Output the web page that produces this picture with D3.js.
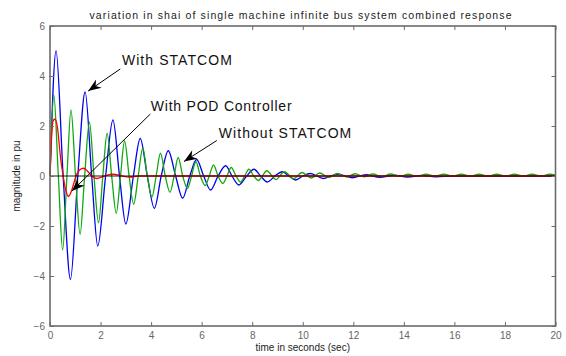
<!DOCTYPE html>
<html>
<head>
<meta charset="utf-8">
<script src="https://cdn.jsdelivr.net/npm/d3@7/dist/d3.min.js"></script>
<style>
  body { margin: 0; background: #fff; }
  text { font-family: 'Liberation Sans', Arial, sans-serif; }
</style>
</head>
<body>
<div id="chart"></div>
<script>
const xTicks = [0, 2, 4, 6, 8, 10, 12, 14, 16, 18, 20];
const yTicks = [-6, -4, -2, 0, 2, 4, 6];

// With STATCOM (blue)
const blueTime = [0, 0.24, 0.52, 0.81, 1.1, 1.39, 1.65, 1.89, 2.2, 2.49, 2.75, 3.0,
  3.3, 3.57, 3.85, 4.13, 4.4, 4.68, 4.97, 5.25, 5.53, 5.8, 6.08, 6.35, 6.65, 6.95,
  7.2, 7.47, 7.78, 8.07, 8.33, 8.6, 8.9, 9.19, 9.45, 9.72, 10.0, 10.3, 10.55, 10.83,
  11.1, 11.4, 11.95, 12.5, 13.05, 13.6, 14.15, 14.7, 15.25, 16.0, 20];
const blueValue = [0, 5.0, 0, -4.13, 0, 3.36, 0, -2.8, 0, 2.24, 0, -1.92,
  0, 1.5, 0, -1.29, 0, 1.01, 0, -0.89, 0, 0.66, 0, -0.56, 0, 0.41,
  0, -0.36, 0, 0.27, 0, -0.24, 0, 0.17, 0, -0.16, 0, 0.1, 0, -0.1,
  0, 0.07, -0.07, 0.05, -0.05, 0.03, -0.04, 0.02, -0.03, 0, 0];

// Without STATCOM (green)
const greenTime = [0, 0.15, 0.33, 0.5, 0.67, 0.83, 1.01, 1.19, 1.37, 1.56, 1.74, 1.92,
  2.09, 2.26, 2.44, 2.62, 2.79, 2.95, 3.13, 3.31, 3.49, 3.67, 3.85, 4.03, 4.2, 4.37,
  4.56, 4.75, 4.91, 5.07, 5.25, 5.44, 5.6, 5.77, 5.95, 6.14, 6.3, 6.47, 6.65, 6.84,
  7.0, 7.17, 7.36, 7.54, 7.7, 7.87, 8.06, 8.24, 8.4, 8.57, 8.94, 9.27, 9.64, 9.97,
  10.34, 10.67, 11.04, 11.37, 11.74, 12.07, 12.44, 12.77, 13.14, 13.47, 13.84, 14.17,
  14.54, 14.87, 15.24, 15.57, 15.94, 16.27, 16.64, 16.97, 17.34, 17.67, 18.04, 18.37,
  18.74, 19.07, 19.44, 19.77, 20];
const greenValue = [0, 3.25, 0, -2.96, 0, 2.64, 0, -2.33, 0, 2.15, 0, -1.87,
  0, 1.71, 0, -1.49, 0, 1.4, 0, -1.13, 0, 1.11, 0, -0.85, 0, 0.91,
  0, -0.65, 0, 0.74, 0, -0.5, 0, 0.57, 0, -0.38, 0, 0.44, 0, -0.3,
  0, 0.34, 0, -0.24, 0, 0.27, 0, -0.18, 0, 0.21, -0.14, 0.17, -0.11, 0.14,
  -0.08, 0.12, -0.06, 0.1, -0.04, 0.09, -0.03, 0.08, -0.02, 0.08, -0.01, 0.07,
  -0.01, 0.07, 0, 0.07, 0, 0.07, 0, 0.07, 0, 0.07, 0, 0.07,
  0, 0.07, 0, 0.07, 0.03];

// With POD Controller (red)
const redTime = [0, 0.05, 0.12, 0.2, 0.3, 0.42, 0.52, 0.62, 0.73, 0.85, 1.03, 1.18,
  1.32, 1.48, 1.65, 1.85, 2.15, 2.5, 2.85, 3.15, 3.5, 20];
const redValue = [0, 1.3, 2.2, 2.28, 1.9, 0.7, 0, -0.55, -0.82, -0.6, 0, 0.25,
  0.31, 0.2, 0, -0.1, 0, 0.07, 0, -0.04, 0, 0];

const titleText = 'variation in shai of single machine infinite bus system combined response';
const xLabel = 'time in seconds (sec)';
const yLabel = 'magnitude in pu';

const noteLabels = ['With STATCOM', 'With POD Controller', 'Without STATCOM'];

/**
* Draw the response chart.
*/
function responseChart() {
  const width = 566;
  const height = 356;
  const left = 50;
  const right = 555.5;
  const top = 26;
  const bottom = 326;
  const axisColor = '#6b6b6b';

  let x = d3.scaleLinear()
      .domain([0, 20])
      .range([left, right]);

  let y = d3.scaleLinear()
      .domain([-6, 6])
      .range([bottom, top]);

  let svg = d3.select('#chart')
    .append('svg')
      .attr('width', width)
      .attr('height', height);

  let line = d3.line()
      .x(function(d) {
        return x(d[0]);
      })
      .y(function(d) {
        return y(d[1]);
      })
      .curve(d3.curveMonotoneX);

  let plot = svg.append('g');

  let series = [
    {time: blueTime, value: blueValue, color: '#0000f0'},
    {time: greenTime, value: greenValue, color: '#12a812'},
    {time: redTime, value: redValue, color: '#ff0000'},
  ];

  series.forEach(function(s) {
    plot.append('path')
        .datum(d3.zip(s.time, s.value))
        .attr('d', line)
        .attr('fill', 'none')
        .attr('stroke', s.color)
        .attr('stroke-width', 1.3)
        .attr('stroke-linejoin', 'round');
  });

  // dark zero line over the traces
  plot.append('line')
      .attr('x1', x(0))
      .attr('x2', x(20))
      .attr('y1', y(0))
      .attr('y2', y(0))
      .attr('stroke', '#000')
      .attr('stroke-opacity', 0.45)
      .attr('stroke-width', 2);

  // box axes with inward ticks
  let axes = svg.append('g');

  axes.append('rect')
      .attr('x', left)
      .attr('y', top)
      .attr('width', right - left)
      .attr('height', bottom - top)
      .attr('fill', 'none')
      .attr('stroke', axisColor)
      .attr('stroke-width', 1.6);

  let xAxisBottom = d3.axisBottom(x).tickValues(xTicks).tickSize(-4).tickFormat(d3.format('d'));
  let xAxisTop = d3.axisTop(x).tickValues(xTicks).tickSize(-4).tickFormat('');
  let yAxisLeft = d3.axisLeft(y).tickValues(yTicks).tickSize(-4).tickFormat(d3.format('d'));
  let yAxisRight = d3.axisRight(y).tickValues(yTicks).tickSize(-4).tickFormat('');

  [
    {axis: xAxisBottom, t: 'translate(0,' + bottom + ')'},
    {axis: xAxisTop, t: 'translate(0,' + top + ')'},
    {axis: yAxisLeft, t: 'translate(' + left + ',0)'},
    {axis: yAxisRight, t: 'translate(' + right + ',0)'},
  ].forEach(function(a) {
    let g = axes.append('g')
        .attr('transform', a.t)
        .call(a.axis);
    g.select('.domain').remove();
    g.selectAll('line')
        .attr('stroke', axisColor)
        .attr('stroke-width', 1);
    g.selectAll('text')
        .attr('fill', '#666')
        .attr('font-size', 10)
        .attr('font-family', "'Liberation Sans', Arial, sans-serif");
  });

  axes.selectAll('text').each(function() {
    let t = d3.select(this);
    if (t.attr('dy') === '0.71em') {
      t.attr('y', 6).attr('dy', '0.71em');
    } else {
      t.attr('x', -5);
    }
  });

  svg.append('text')
      .attr('x', 89.5)
      .attr('y', 19)
      .attr('font-size', 10.5)
      .attr('fill', '#222')
      .attr('textLength', 422)
      .attr('lengthAdjust', 'spacing')
      .text(titleText);

  svg.append('text')
      .attr('x', (left + right) / 2)
      .attr('y', 351)
      .attr('text-anchor', 'middle')
      .attr('font-size', 10)
      .attr('fill', '#222')
      .text(xLabel);

  svg.append('text')
      .attr('transform', 'translate(20,' + y(0) + ') rotate(-90)')
      .attr('text-anchor', 'middle')
      .attr('font-size', 10)
      .attr('fill', '#222')
      .text(yLabel);

  // annotation text and arrows, placed in data units
  let notes = [
    {at: [2.845, 4.43], len: 110, from: [2.78, 4.28], to: [1.51, 3.4]},
    {at: [3.99, 2.61], len: 140.7, from: [3.97, 2.48], to: [0.87, -0.6]},
    {at: [6.68, 1.53], len: 132.4, from: [6.6, 1.42], to: [5.3, 0.58]},
  ];

  let noteGroup = svg.append('g');

  notes.forEach(function(n, i) {
    noteGroup.append('text')
        .attr('x', x(n.at[0]))
        .attr('y', y(n.at[1]))
        .attr('font-size', 14)
        .attr('fill', '#111')
        .attr('textLength', n.len)
        .attr('lengthAdjust', 'spacing')
        .text(noteLabels[i]);

    let x1 = x(n.from[0]);
    let y1 = y(n.from[1]);
    let x2 = x(n.to[0]);
    let y2 = y(n.to[1]);
    let angle = Math.atan2(y2 - y1, x2 - x1) * 180 / Math.PI;

    noteGroup.append('line')
        .attr('x1', x1)
        .attr('y1', y1)
        .attr('x2', x2)
        .attr('y2', y2)
        .attr('stroke', '#000')
        .attr('stroke-width', 1);

    noteGroup.append('path')
        .attr('d', 'M0,0L-13,-5L-9,0L-13,5Z')
        .attr('transform', 'translate(' + x2 + ',' + y2 + ') rotate(' + angle + ')')
        .attr('fill', '#000');
  });
}

responseChart();
</script>
</body>
</html>
